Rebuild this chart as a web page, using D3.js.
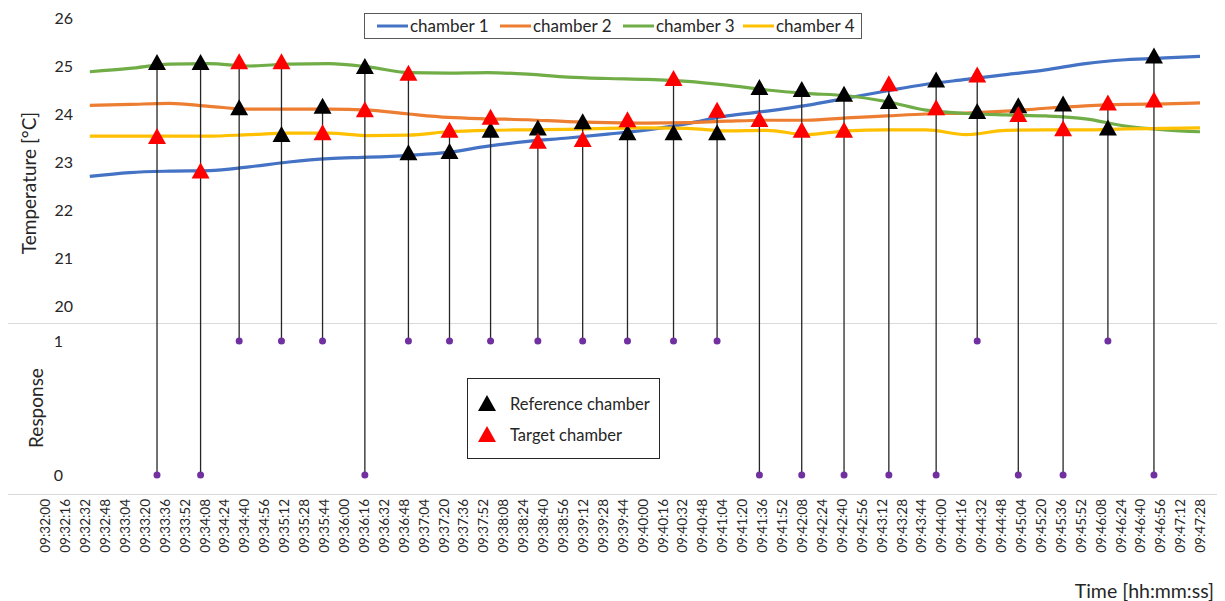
<html>
<head>
<meta charset="utf-8">
<script src="https://d3js.org/d3.v7.min.js"></script>
<style>
  body { margin: 0; background: #fff; }
  text { font-family: Lato, "Noto Sans", sans-serif; fill: #262626; }
</style>
</head>
<body>
<script>
var sampleTimes = ["09:32:36","09:33:08","09:33:40","09:34:12","09:34:44","09:35:16","09:35:48","09:36:20",
  "09:36:52","09:37:24","09:37:56","09:38:28","09:39:00","09:39:32","09:40:04","09:40:36","09:41:08",
  "09:41:40","09:42:12","09:42:44","09:43:16","09:43:48","09:44:20","09:44:52","09:45:24","09:45:56",
  "09:46:28","09:47:00","09:47:28"];
var chamber1 = [22.70,22.78,22.81,22.82,22.90,23.00,23.07,23.10,23.14,23.20,23.33,23.43,23.50,23.58,23.67,
  23.80,23.96,24.06,24.18,24.33,24.48,24.62,24.72,24.82,24.92,25.05,25.13,25.17,25.20];
var chamber2 = [24.18,24.20,24.22,24.16,24.10,24.10,24.10,24.08,24.00,23.93,23.90,23.88,23.84,23.82,23.81,
  23.82,23.85,23.87,23.87,23.92,23.96,24.00,24.02,24.06,24.12,24.17,24.20,24.21,24.23];
var chamber3 = [24.88,24.95,25.04,25.05,25.00,25.04,25.05,24.98,24.86,24.85,24.86,24.83,24.77,24.74,24.72,
  24.68,24.60,24.50,24.43,24.38,24.26,24.08,24.01,23.98,23.96,23.90,23.75,23.67,23.63];
var chamber4 = [23.54,23.54,23.54,23.54,23.57,23.60,23.60,23.55,23.56,23.63,23.66,23.67,23.68,23.70,23.71,
  23.70,23.65,23.66,23.57,23.65,23.67,23.67,23.57,23.66,23.67,23.67,23.69,23.70,23.71];

// trials
var trialTimes = ["09:33:30","09:34:05","09:34:36","09:35:10","09:35:43","09:36:17","09:36:52","09:37:25",
  "09:37:58","09:38:36","09:39:12","09:39:48","09:40:25","09:41:00","09:41:34","09:42:08","09:42:42",
  "09:43:18","09:43:56","09:44:29","09:45:02","09:45:38","09:46:14","09:46:51"];
var referenceTemp = [25.06,25.06,24.12,23.56,24.15,24.98,23.18,23.21,23.65,23.70,23.83,23.60,23.60,23.60,
  24.54,24.50,24.40,24.25,24.70,24.04,24.16,24.20,23.70,25.20];
var targetTemp = [23.52,22.80,25.08,25.08,23.60,24.08,24.84,23.65,23.92,23.42,23.46,23.87,24.73,24.07,
  23.875,23.65,23.65,24.62,24.12,24.80,23.98,23.68,24.22,24.28];
var response = [0,0,1,1,1,0,1,1,1,1,1,1,1,1,0,0,0,0,0,1,0,0,1,0];

var seriesNames = ["chamber 1","chamber 2","chamber 3","chamber 4"];
var seriesColors = ["#4472C4","#ED7D31","#70AD47","#FFC000"];
var tempTicks = [20,21,22,23,24,25,26];
var responseTicks = [0,1];
var startTime = "09:32:00", endTime = "09:47:28", tickStep = 16;

var width = 1225, height = 601;
function secs(s) { var p = s.split(":").map(Number); return p[0]*3600 + p[1]*60 + p[2]; }
var t0 = secs(startTime);
function rel(s) { return secs(s) - t0; }
function fmt(v) {
  var t = t0 + v, h = Math.floor(t/3600), m = Math.floor(t%3600/60), s = t%60;
  return d3.format("02")(h) + ":" + d3.format("02")(m) + ":" + d3.format("02")(s);
}

var svg = d3.select("body").append("svg").attr("width", width).attr("height", height);

var x = d3.scaleLinear().domain([0, rel(endTime)]).range([45, 1200]);
var yT = d3.scaleLinear().domain([20, 26]).range([306, 18]);
var yR = d3.scaleLinear().domain([0, 1]).range([475, 341]);

// separators
svg.append("line").attr("x1", 8).attr("x2", 1217).attr("y1", 323.5).attr("y2", 323.5).attr("stroke", "#d9d9d9");
svg.append("line").attr("x1", 8).attr("x2", 1217).attr("y1", 494.5).attr("y2", 494.5).attr("stroke", "#d9d9d9");

// y axes
var gT = svg.append("g").attr("transform", "translate(73,0)")
  .call(d3.axisLeft(yT).tickValues(tempTicks).tickFormat(d3.format("d")).tickSize(0).tickPadding(0));
gT.select(".domain").remove();
gT.selectAll("text").style("font-size", "16px").style("font-family", "Lato, sans-serif").attr("fill", "#262626");

var gR = svg.append("g").attr("transform", "translate(63,0)")
  .call(d3.axisLeft(yR).tickValues(responseTicks).tickFormat(d3.format("d")).tickSize(0).tickPadding(0));
gR.select(".domain").remove();
gR.selectAll("text").style("font-size", "16px").style("font-family", "Lato, sans-serif").attr("fill", "#262626");

// x axis
var gX = svg.append("g").attr("transform", "translate(0,497)")
  .call(d3.axisBottom(x).tickValues(d3.range(0, rel(endTime) + 1, tickStep)).tickFormat(fmt).tickSize(0));
gX.select(".domain").remove();
gX.selectAll("text")
  .attr("transform", "rotate(-90)")
  .attr("x", -2).attr("y", 0).attr("dy", "0.35em")
  .style("text-anchor", "end")
  .style("font-size", "13.5px").style("font-family", "Lato, sans-serif").attr("fill", "#404040");

// axis titles
svg.append("text").attr("transform", "translate(36,183) rotate(-90)")
  .attr("text-anchor", "middle").style("font-size", "19px").text("Temperature [°C]");
svg.append("text").attr("transform", "translate(43,408) rotate(-90)")
  .attr("text-anchor", "middle").style("font-size", "19px").text("Response");
svg.append("text").attr("x", 1214).attr("y", 598)
  .attr("text-anchor", "end").style("font-size", "19.5px").text("Time [hh:mm:ss]");

// temperature lines
var sx = sampleTimes.map(rel);
var line = d3.line().x(function(d, i) { return x(sx[i]); }).y(function(d) { return yT(d); })
  .curve(d3.curveMonotoneX);
[chamber1, chamber2, chamber3, chamber4].forEach(function(vals, k) {
  svg.append("path").datum(vals).attr("d", line)
    .attr("fill", "none").attr("stroke", seriesColors[k]).attr("stroke-width", 3.2);
});

// stems
var trials = trialTimes.map(function(t, i) {
  return { t: rel(t), ref: referenceTemp[i], tgt: targetTemp[i], r: response[i] };
});
svg.append("g").selectAll("line").data(trials).join("line")
  .attr("x1", function(d) { return x(d.t); }).attr("x2", function(d) { return x(d.t); })
  .attr("y1", function(d) { return yT(Math.max(d.ref, d.tgt)); })
  .attr("y2", function(d) { return yR(d.r); })
  .attr("stroke", "#262626").attr("stroke-width", 1.3);

svg.append("g").selectAll("circle").data(trials).join("circle")
  .attr("cx", function(d) { return x(d.t); }).attr("cy", function(d) { return yR(d.r); })
  .attr("r", 3.5).attr("fill", "#7030A0");

function tri(cx, cy) {
  return "M" + cx + "," + (cy - 9) + "L" + (cx + 9) + "," + (cy + 7) + "L" + (cx - 9) + "," + (cy + 7) + "Z";
}
svg.append("g").selectAll("path").data(trials).join("path")
  .attr("d", function(d) { return tri(x(d.t), yT(d.ref)); }).attr("fill", "#000");
svg.append("g").selectAll("path").data(trials).join("path")
  .attr("d", function(d) { return tri(x(d.t), yT(d.tgt)); }).attr("fill", "#ff0000");

// top legend
var lg = svg.append("g");
lg.append("rect").attr("x", 364.5).attr("y", 13.5).attr("width", 497).attr("height", 25)
  .attr("fill", "#fff").attr("stroke", "#595959");
var legX = [377, 500, 623, 743];
seriesNames.forEach(function(n, k) {
  lg.append("line").attr("x1", legX[k]).attr("x2", legX[k] + 31).attr("y1", 26).attr("y2", 26)
    .attr("stroke", seriesColors[k]).attr("stroke-width", 3);
  lg.append("text").attr("x", legX[k] + 33).attr("y", 26).attr("dy", "0.35em")
    .style("font-size", "17px").text(n);
});

// marker legend
var ml = svg.append("g");
ml.append("rect").attr("x", 467.5).attr("y", 378.5).attr("width", 192).attr("height", 80)
  .attr("fill", "#fff").attr("stroke", "#262626");
ml.append("path").attr("d", tri(487, 404)).attr("fill", "#000");
ml.append("path").attr("d", tri(487, 435)).attr("fill", "#ff0000");
ml.append("text").attr("x", 510).attr("y", 404).attr("dy", "0.35em").style("font-size", "16.5px").text("Reference chamber");
ml.append("text").attr("x", 510).attr("y", 435).attr("dy", "0.35em").style("font-size", "16.5px").text("Target chamber");
</script>
</body>
</html>
